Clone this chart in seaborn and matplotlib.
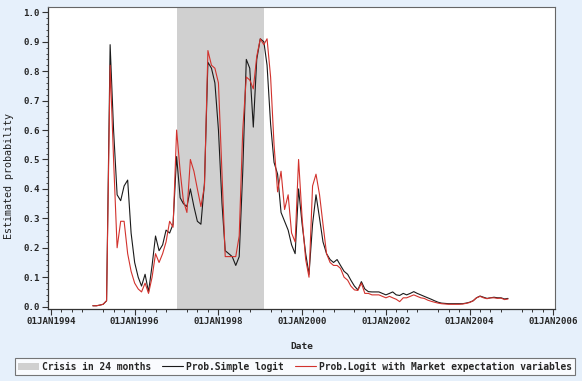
import numpy as np
import pandas as pd
import matplotlib
matplotlib.use("Agg")
import matplotlib.pyplot as plt
import matplotlib.dates as mdates
from matplotlib.patches import Patch
from matplotlib.lines import Line2D
import seaborn as sns

# ---------------- data ----------------
start_month = "1995-01-01"
simple_logit = [
    0.003, 0.003, 0.005, 0.008, 0.02, 0.89, 0.60, 0.38, 0.36, 0.41,
    0.43, 0.25, 0.15, 0.10, 0.07, 0.11, 0.05, 0.14, 0.24, 0.19,
    0.21, 0.26, 0.25, 0.28, 0.51, 0.37, 0.35, 0.34, 0.40, 0.34,
    0.29, 0.28, 0.42, 0.83, 0.81, 0.76, 0.60, 0.35, 0.19, 0.18,
    0.17, 0.14, 0.17, 0.46, 0.84, 0.81, 0.61, 0.84, 0.91, 0.90,
    0.82, 0.62, 0.49, 0.45, 0.32, 0.29, 0.26, 0.21, 0.18, 0.40,
    0.28, 0.18, 0.11, 0.28, 0.38, 0.30, 0.22, 0.18, 0.16, 0.15,
    0.16, 0.14, 0.12, 0.11, 0.09, 0.07, 0.057, 0.085, 0.06, 0.051,
    0.05, 0.05, 0.05, 0.045, 0.04, 0.045, 0.05, 0.04, 0.038, 0.045,
    0.04, 0.045, 0.051, 0.045, 0.04, 0.035, 0.03, 0.025, 0.02, 0.015,
    0.012, 0.011, 0.01, 0.01, 0.01, 0.01, 0.01, 0.012, 0.015, 0.02,
    0.03, 0.036, 0.032, 0.028, 0.03, 0.032, 0.03, 0.03, 0.026, 0.028,
]
market_logit = [
    0.003, 0.003, 0.005, 0.008, 0.02, 0.82, 0.50, 0.20, 0.29, 0.29,
    0.18, 0.12, 0.08, 0.06, 0.05, 0.08, 0.045, 0.10, 0.18, 0.15,
    0.18, 0.22, 0.29, 0.27, 0.60, 0.46, 0.36, 0.32, 0.50, 0.46,
    0.40, 0.34, 0.41, 0.87, 0.82, 0.81, 0.76, 0.45, 0.17, 0.17,
    0.17, 0.17, 0.24, 0.60, 0.78, 0.77, 0.74, 0.85, 0.91, 0.89,
    0.91, 0.78, 0.55, 0.39, 0.46, 0.33, 0.38, 0.25, 0.22, 0.50,
    0.30, 0.16, 0.10, 0.41, 0.45, 0.38, 0.28, 0.18, 0.15, 0.14,
    0.14, 0.13, 0.10, 0.09, 0.07, 0.057, 0.055, 0.08, 0.045, 0.045,
    0.04, 0.04, 0.04, 0.035, 0.03, 0.035, 0.03, 0.025, 0.017, 0.03,
    0.03, 0.035, 0.04, 0.035, 0.03, 0.028, 0.022, 0.018, 0.015, 0.012,
    0.01, 0.009, 0.008, 0.008, 0.008, 0.008, 0.009, 0.011, 0.014, 0.02,
    0.03, 0.035, 0.03, 0.027, 0.03, 0.03, 0.028, 0.029, 0.024, 0.026,
]
crisis_start = "1997-01-01"
crisis_end = "1999-02-01"
series_names = ["Prob.Simple logit", "Prob.Logit with Market expectation variables"]
crisis_label = "Crisis in 24 months"
tick_years = [1994, 1996, 1998, 2000, 2002, 2004, 2006]
tick_labels = ["01JAN1994", "01JAN1996", "01JAN1998", "01JAN2000",
               "01JAN2002", "01JAN2004", "01JAN2006"]
y_ticks = [0.0, 0.1, 0.2, 0.3, 0.4, 0.5, 0.6, 0.7, 0.8, 0.9, 1.0]

dates = pd.date_range(start_month, periods=len(simple_logit), freq="MS")
df = pd.concat([
    pd.DataFrame({"Date": dates, "p": simple_logit, "model": series_names[0]}),
    pd.DataFrame({"Date": dates, "p": market_logit, "model": series_names[1]}),
])

# ---------------- style ----------------
sns.set_style("white")
plt.rcParams["font.family"] = ["DejaVu Sans Mono", "DejaVu Sans"]
bg = "#E6F0FB"
black_c = "#1a1a1a"
red_c = "#D2322D"
shade_c = "#D0D0D0"

fig = plt.figure(figsize=(5.82, 3.81), dpi=100, facecolor=bg)
ax = fig.add_axes([48 / 582, 1 - 309 / 381, (555 - 48) / 582, (309 - 7) / 381])
ax.set_facecolor("white")

ax.axvspan(pd.Timestamp(crisis_start), pd.Timestamp(crisis_end),
           color=shade_c, lw=0, zorder=0)
sns.lineplot(data=df, x="Date", y="p", hue="model",
             palette=[black_c, red_c], linewidth=0.8, ax=ax, legend=False)

ax.set_xlim(pd.Timestamp("1993-12-06"), pd.Timestamp("2006-01-15"))
ax.set_ylim(-0.008, 1.018)

ax.set_xticks([pd.Timestamp(f"{y}-01-01") for y in tick_years])
ax.set_xticklabels(tick_labels, fontsize=6.6, fontweight="bold")
ax.xaxis.set_minor_locator(mdates.MonthLocator(bymonth=[4, 7, 10]))
ax.set_yticks(y_ticks)
ax.set_yticklabels([f"{v:.1f}" for v in y_ticks], fontsize=6.6, fontweight="bold")
ax.yaxis.set_minor_locator(matplotlib.ticker.MultipleLocator(0.02))

ax.tick_params(axis="both", which="major", direction="out", length=4,
               width=0.8, color="#333333", pad=2,
               bottom=True, left=True)
ax.tick_params(axis="x", which="minor", direction="out", length=2.5,
               width=0.7, color="#333333", bottom=True)
ax.tick_params(axis="y", which="minor", direction="out", length=1.5,
               width=0.6, color="#333333", left=True)
for s in ["left", "bottom"]:
    ax.spines[s].set_color("#333333")
    ax.spines[s].set_linewidth(0.9)
for s in ["top", "right"]:
    ax.spines[s].set_color("#666666")
    ax.spines[s].set_linewidth(0.8)

ax.set_xlabel("Date", fontsize=6.8, fontweight="bold", labelpad=11)
ax.set_ylabel("Estimated probability", fontsize=7.2,
              fontfamily="DejaVu Sans Mono", color="#222222")
ax.yaxis.set_label_coords(-0.067, 0.44)

handles = [Patch(facecolor=shade_c, edgecolor="none"),
           Line2D([], [], color=black_c, lw=0.8),
           Line2D([], [], color=red_c, lw=0.8)]
labels = [crisis_label] + series_names
leg = fig.legend(handles, labels, loc="lower left",
                 bbox_to_anchor=(15 / 582, 6 / 381, 560 / 582, 19 / 381),
                 mode="expand", ncol=3, frameon=True, fancybox=False,
                 prop={"family": "DejaVu Sans Mono", "weight": "bold", "size": 6.9},
                 handlelength=2.2, handletextpad=0.3, columnspacing=0.6,
                 borderaxespad=0, borderpad=0.35)
leg.get_frame().set_edgecolor("#555555")
leg.get_frame().set_linewidth(0.8)
leg.get_frame().set_facecolor("white")

fig.savefig("out.png", dpi=100, facecolor=bg)
